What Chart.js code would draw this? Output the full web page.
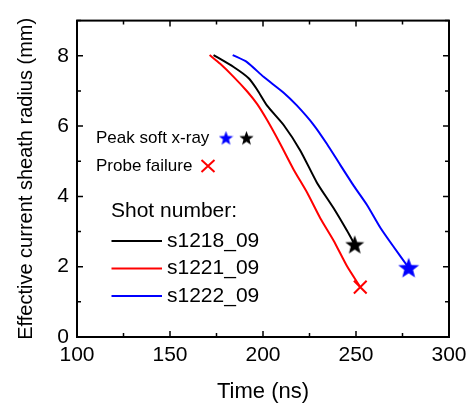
<!DOCTYPE html>
<html>
<head>
<meta charset="utf-8">
<script src="https://cdn.jsdelivr.net/npm/chart.js@4/dist/chart.umd.min.js"></script>
<style>
  html, body { margin: 0; padding: 0; background: #fff; }
  #wrap { width: 473px; height: 406px; }
</style>
</head>
<body>
<div id="wrap"><canvas id="sheathChart"></canvas></div>
<script>
// radius vs time
const shotNames = ['s1218_09', 's1221_09', 's1222_09'];
const shotColors = ['#000000', '#ff0000', '#0000ff'];

const t1218 = [173.4, 184.2, 192.3, 196.8, 202.2, 211.1, 220.1, 229.0, 238.0, 245.2, 249.3];
const r1218 = [8.02, 7.68, 7.36, 7.04, 6.58, 6.03, 5.30, 4.39, 3.66, 3.02, 2.63];

const t1221 = [171.3, 177.0, 184.2, 191.4, 196.8, 202.2, 209.3, 216.5, 223.7, 230.8, 238.0, 245.2, 252.3];
const r1221 = [8.02, 7.77, 7.40, 6.99, 6.63, 6.17, 5.49, 4.76, 4.11, 3.38, 2.74, 2.01, 1.42];

const t1222 = [183.7, 191.4, 200.3, 211.1, 218.3, 227.3, 234.4, 241.6, 248.8, 256.0, 263.1, 270.3, 278.3];
const r1222 = [8.02, 7.82, 7.40, 6.95, 6.58, 6.03, 5.49, 4.89, 4.30, 3.75, 3.11, 2.56, 1.97];

// end markers: peak soft x-ray (stars) and probe failure (cross)
const peakT = [249.3, 278.3];
const peakR = [2.63, 1.97];
const failT = [252.3];
const failR = [1.42];

const xTicks = [100, 150, 200, 250, 300];
const yTicks = [0, 2, 4, 6, 8];

function toPts(xs, ys) { return xs.map((x, i) => ({ x: x, y: ys[i] })); }

function starImage(size, color) {
  const c = document.createElement('canvas');
  c.width = size; c.height = size;
  const g = c.getContext('2d');
  const cx = size / 2, cy = size / 2 + size * 0.04;
  const ro = size / 2, ri = ro * 0.42;
  g.beginPath();
  for (let i = 0; i < 10; i++) {
    const r = i % 2 === 0 ? ro : ri;
    const a = -Math.PI / 2 + i * Math.PI / 5;
    const px = cx + r * Math.cos(a), py = cy + r * Math.sin(a);
    if (i === 0) g.moveTo(px, py); else g.lineTo(px, py);
  }
  g.closePath();
  g.fillStyle = color;
  g.fill();
  return c;
}

const starBlackBig = starImage(20, '#000000');
const starBlueBig = starImage(22, '#0000ff');
const starBlueSmall = starImage(15, '#0000ff');
const starBlackSmall = starImage(15, '#000000');

const FONT = "'Liberation Sans', Arial, sans-serif";

// frame, inward ticks, annotations and legend
const decorations = {
  id: 'decorations',
  afterDatasetsDraw(chart) {
    const ctx = chart.ctx;
    const a = chart.chartArea;
    const xs = chart.scales.x, ys = chart.scales.y;
    ctx.save();
    ctx.strokeStyle = '#000';
    ctx.lineWidth = 2;
    ctx.strokeRect(a.left, a.top, a.right - a.left, a.bottom - a.top);

    ctx.lineWidth = 1.5;
    ctx.beginPath();
    for (let v = 100; v <= 300; v += 25) {
      const px = xs.getPixelForValue(v);
      const len = v % 50 === 0 ? 6 : 4;
      ctx.moveTo(px, a.bottom); ctx.lineTo(px, a.bottom - len);
      ctx.moveTo(px, a.top); ctx.lineTo(px, a.top + len);
    }
    for (let v = 0; v <= 9; v += 1) {
      const py = ys.getPixelForValue(v);
      const len = v % 2 === 0 ? 6 : 4;
      ctx.moveTo(a.left, py); ctx.lineTo(a.left + len, py);
      ctx.moveTo(a.right, py); ctx.lineTo(a.right - len, py);
    }
    ctx.stroke();

    // annotation text
    ctx.fillStyle = '#000';
    ctx.textBaseline = 'middle';
    ctx.textAlign = 'left';
    ctx.font = '17px ' + FONT;
    ctx.fillText('Peak soft x-ray', 96, 138);
    ctx.fillText('Probe failure', 96, 166);
    ctx.drawImage(starBlueSmall, 226 - 7.5, 138 - 7.5);
    ctx.drawImage(starBlackSmall, 246.5 - 7.5, 138 - 7.5);
    ctx.strokeStyle = '#ff0000';
    ctx.lineWidth = 2;
    ctx.beginPath();
    ctx.moveTo(201.5, 160); ctx.lineTo(214.5, 172);
    ctx.moveTo(214.5, 160); ctx.lineTo(201.5, 172);
    ctx.stroke();

    // legend
    ctx.fillStyle = '#000';
    ctx.font = '21px ' + FONT;
    ctx.fillText('Shot number:', 111, 211);
    const rows = [241, 268.5, 296];
    shotNames.forEach((name, i) => {
      ctx.strokeStyle = shotColors[i];
      ctx.lineWidth = 2;
      ctx.beginPath();
      ctx.moveTo(111.5, rows[i]); ctx.lineTo(162, rows[i]);
      ctx.stroke();
      ctx.fillStyle = '#000';
      ctx.fillText(name, 167, rows[i]);
    });
    ctx.restore();
  }
};

new Chart(document.getElementById('sheathChart'), {
  type: 'scatter',
  data: {
    datasets: [
      { label: shotNames[0], data: toPts(t1218, r1218), showLine: true, borderColor: shotColors[0], borderWidth: 2, pointRadius: 0, tension: 0.2 },
      { label: shotNames[1], data: toPts(t1221, r1221), showLine: true, borderColor: shotColors[1], borderWidth: 2, pointRadius: 0, tension: 0.2 },
      { label: shotNames[2], data: toPts(t1222, r1222), showLine: true, borderColor: shotColors[2], borderWidth: 2, pointRadius: 0, tension: 0.2 },
      { label: 'peak', data: toPts(peakT, peakR), showLine: false, pointStyle: [starBlackBig, starBlueBig] },
      { label: 'fail', data: toPts(failT, failR), showLine: false, pointStyle: 'crossRot', pointRadius: 9, borderColor: '#ff0000', borderWidth: 2 }
    ]
  },
  options: {
    responsive: true,
    maintainAspectRatio: false,
    animation: false,
    layout: { padding: { top: 9, right: 24, left: 0, bottom: 0 } },
    plugins: { legend: { display: false }, tooltip: { enabled: false } },
    scales: {
      x: {
        type: 'linear', min: 100, max: 300,
        afterBuildTicks: s => { s.ticks = xTicks.map(v => ({ value: v })); },
        afterFit: s => { s.height = 69; },
        grid: { display: false, drawTicks: false },
        border: { display: false },
        ticks: { color: '#000', font: { family: FONT, size: 21 }, padding: 6, maxRotation: 0 },
        title: { display: true, text: 'Time (ns)', color: '#000', font: { family: FONT, size: 22 }, padding: { top: 0, bottom: 1 } }
      },
      y: {
        type: 'linear', min: 0, max: 9,
        afterBuildTicks: s => { s.ticks = yTicks.map(v => ({ value: v })); },
        afterFit: s => { s.width = 77; },
        grid: { display: false, drawTicks: false },
        border: { display: false },
        ticks: { color: '#000', font: { family: FONT, size: 21 }, padding: 8 },
        title: { display: true, text: 'Effective current sheath radius (mm)', color: '#000', font: { family: FONT, size: 20 }, padding: { top: 14, bottom: 0 } }
      }
    }
  },
  plugins: [decorations]
});
</script>
</body>
</html>
